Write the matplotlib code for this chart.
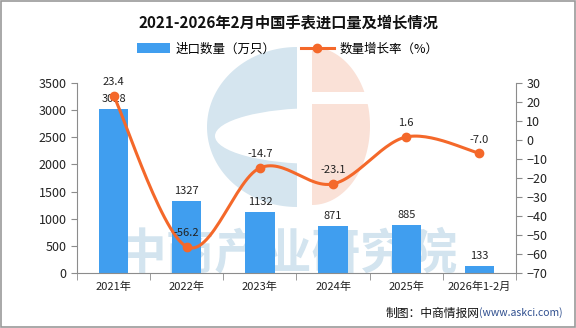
import numpy as np
import matplotlib
matplotlib.use("Agg")
import matplotlib.pyplot as plt
from matplotlib.lines import Line2D
from matplotlib.patches import Patch, Polygon, Rectangle, Ellipse

plt.rcParams['font.family'] = ['Noto Sans CJK SC', 'DejaVu Sans']

categories = ["2021年", "2022年", "2023年", "2024年", "2025年", "2026年1-2月"]
volume = [3028, 1327, 1132, 871, 885, 133]
growth = [23.4, -56.2, -14.7, -23.1, 1.6, -7.0]
growth_labels = ["23.4", "-56.2", "-14.7", "-23.1", "1.6", "-7.0"]

BAR_C = "#409EEF"
LINE_C = "#F4682A"
AX_C = "#8C8C8C"

fig = plt.figure(figsize=(5.76, 3.28), dpi=100)
fig.patch.set_facecolor("white")

# ---- background decoration (logo + watermark), in pixel coords ----
bg = fig.add_axes([0, 0, 1, 1], zorder=-5)
bg.set_xlim(0, 576)
bg.set_ylim(328, 0)
bg.axis('off')

def half_ellipse(cx, cy, rx, ry, side):
    if side == 'left':
        th = np.linspace(np.pi/2, 3*np.pi/2, 80)
    else:
        th = np.linspace(-np.pi/2, np.pi/2, 80)
    return np.column_stack([cx + rx*np.cos(th), cy - ry*np.sin(th)])

BLUE_W = "#D5E5EF"
PINK_W = "#FAE1D7"
bg.add_patch(Polygon(half_ellipse(297, 127, 90, 80, 'left'), closed=True, facecolor=BLUE_W, edgecolor='none'))
bg.add_patch(Ellipse((318, 136), 206, 56, facecolor='white', edgecolor='none'))
bg.add_patch(Polygon(half_ellipse(312, 126, 58, 79, 'right'), closed=True, facecolor=PINK_W, edgecolor='none'))
bg.add_patch(Rectangle((312, 92), 60, 12, facecolor='white', edgecolor='none'))
bg.text(288, 255, "中商产业研究院", fontsize=35, color="#D3E4EF", ha='center', va='center',
        fontweight='bold')

ax = fig.add_axes([77/576, 1-273/328, (516-77)/576, (273-83)/328])
ax.patch.set_visible(False)
ax2 = ax.twinx()

x = np.arange(len(categories))
ax.bar(x, volume, width=0.4, color=BAR_C, zorder=2)
ax.set_xlim(-0.5, len(categories)-0.5)
ax.set_ylim(0, 3500)
ax.set_yticks(np.arange(0, 3501, 500))
ax2.set_ylim(-70, 30)
ax2.set_yticks(np.arange(-70, 31, 10))

# smooth curve (Catmull-Rom through the data points)
def catmull(xs, ys, n=30):
    xs = np.asarray(xs, float); ys = np.asarray(ys, float)
    P = np.column_stack([xs, ys])
    P = np.vstack([P[0], P, P[-1]])
    out = []
    for i in range(1, len(P)-2):
        p0, p1, p2, p3 = P[i-1], P[i], P[i+1], P[i+2]
        t = np.linspace(0, 1, n)[:, None]
        seg = 0.5*((2*p1) + (-p0+p2)*t + (2*p0-5*p1+4*p2-p3)*t**2 + (-p0+3*p1-3*p2+p3)*t**3)
        out.append(seg)
    out = np.vstack(out)
    return out[:, 0], out[:, 1]

cx, cy = catmull(x, growth)
ax2.plot(cx, cy, color=LINE_C, lw=2.2, zorder=5)
ax2.plot(x, growth, 'o', color=LINE_C, ms=6, zorder=6)

ax2.set_zorder(ax.get_zorder()+1)
ax2.patch.set_visible(False)

for xi, v in zip(x, volume):
    ax.text(xi, v + 90, str(v), ha='center', va='bottom', fontsize=8, color='#222222', zorder=7)
for xi, g, lab in zip(x, growth, growth_labels):
    ax2.text(xi, g + 4.5, lab, ha='center', va='bottom', fontsize=8, color='#222222', zorder=7)

for a in (ax, ax2):
    for s in a.spines.values():
        s.set_visible(False)
ax.spines['left'].set_visible(True)
ax.spines['left'].set_color(AX_C)
ax.spines['bottom'].set_visible(True)
ax.spines['bottom'].set_color(AX_C)
ax2.spines['right'].set_visible(True)
ax2.spines['right'].set_color(AX_C)

ax.tick_params(axis='y', colors=AX_C, labelcolor='#222222', labelsize=9, length=4, direction='out')
ax2.tick_params(axis='y', colors=AX_C, labelcolor='#222222', labelsize=9, length=4, direction='out')
ax.set_xticks(x)
ax.set_xticklabels(categories, fontsize=8, color='#222222')
ax.tick_params(axis='x', length=0, pad=6)
ax.set_xticks(np.arange(-0.5, len(categories), 1), minor=True)
ax.tick_params(axis='x', which='minor', length=5, color=AX_C)

fig.text(0.5, 1-22/328, "2021-2026年2月中国手表进口量及增长情况", ha='center', va='center',
         fontsize=11, fontweight='bold', color='#111111')

handles = [Patch(facecolor=BAR_C, edgecolor='none'),
           Line2D([0], [0], color=LINE_C, lw=2.2, marker='o', ms=6)]
fig.legend(handles, ["进口数量（万只）", "数量增长率（%）"], loc='center',
           bbox_to_anchor=(0.5, 1-49/328), ncol=2, frameon=False, fontsize=9,
           handlelength=2.6, handleheight=0.8, columnspacing=2.0, handletextpad=0.5)

fig.text(0.832, 1-313/328, "制图：中商情报网", ha='right', va='center', fontsize=8.5, color='#111111')
fig.text(0.832, 1-313/328, "(www.askci.com)", ha='left', va='center', fontsize=7.5, color='#2F4F8F')

border = Rectangle((0.001, 0.002), 0.997, 0.995, transform=fig.transFigure, fill=False,
                   edgecolor='#999999', lw=1.2)
fig.patches.append(border)

fig.savefig("out.png", dpi=100)
